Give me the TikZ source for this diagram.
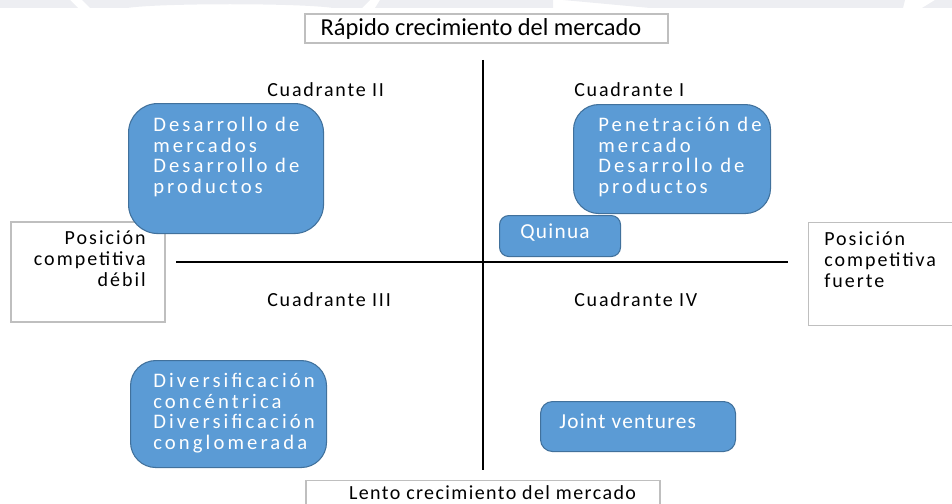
\documentclass[tikz,border=0pt]{standalone}
\usepackage{fontspec}
\setmainfont{Carlito}
\newfontfamily\bluefont[LetterSpace=15]{Carlito}
\newfontfamily\bluesfont[LetterSpace=6]{Carlito}
\newfontfamily\quadfont[LetterSpace=9]{Carlito}
\newfontfamily\posfont[LetterSpace=10]{Carlito}
\newfontfamily\lentofont[LetterSpace=7]{Carlito}
\definecolor{bluefill}{HTML}{5B9BD5}
\definecolor{blueline}{HTML}{41719C}
\definecolor{boxline}{HTML}{BFBFBF}
\definecolor{wm}{HTML}{EDEEF2}
\tikzset{
  graybox/.style={draw=boxline, line width=0.8pt, fill=white, inner sep=0pt},
  bluebox/.style={draw=blueline, line width=0.8pt, fill=bluefill, inner sep=0pt},
  bluetext/.style={text=white, font=\bluefont\fontsize{15.5}{15.5}\selectfont, align=left, inner sep=0pt},
  bluestext/.style={text=white, font=\bluesfont\fontsize{16}{15.5}\selectfont, inner sep=0pt},
  quadtext/.style={font=\quadfont\fontsize{15}{16}\selectfont, inner sep=0pt},
  postext/.style={font=\posfont\fontsize{15}{15.75}\selectfont, inner sep=0pt},
  axis/.style={line width=1pt, draw=black}
}
\begin{document}
\begin{tikzpicture}[x=0.75pt,y=-0.75pt]
\useasboundingbox (0,0) rectangle (952,503);
% watermark
\fill[wm] (0,0) -- (70,0) -- (78,8) -- (0,8) -- cycle;
\fill[wm] (82,0) -- (370,0) -- (362,8) -- (333,8) .. controls (300,3) and (160,3) .. (127,8) -- (90,8) -- cycle;
\fill[wm] (380,0) -- (553,0) -- (553,8) -- (375,8) -- cycle;
\fill[wm] (563,0) -- (905,0) -- (903,8) -- (650,8) -- cycle;
\fill[wm] (935,0) -- (952,0) -- (952,8) -- (922,8) -- cycle;
% axes
\coordinate (vtop) at (483,60);
\coordinate (vbot) at (483,470);
\coordinate (hleft) at (176,262);
\coordinate (hright) at (788,262);
\draw[axis] (vtop) -- (vbot);
\draw[axis] (hleft) -- (hright);
% top and bottom boxes
\node[graybox, minimum width=272.25pt, minimum height=21.75pt] (rapidobox) at (486.5,28.5) {};
\node[font=\fontsize{18.3}{20}\selectfont, inner sep=0pt] (rapido) at (481,28.5) {Rápido crecimiento del mercado};
\node[graybox, minimum width=265.5pt, minimum height=30pt, anchor=north] (lentobox) at (483,480) {};
\node[font=\lentofont\fontsize{15}{16}\selectfont, inner sep=0pt] (lento) at (492.5,493) {Lento crecimiento del mercado};
% side boxes
\node[graybox, minimum width=115.5pt, minimum height=75pt] (debilbox) at (88,272) {};
\node[postext, align=right, anchor=north east] (debil) at (146,230) {Posición\\competitiva\\débil};
\node[graybox, minimum width=112.5pt, minimum height=77.25pt, anchor=north west] (fuertebox) at (808,222) {};
\node[postext, align=left, anchor=north west] (fuerte) at (824,231) {Posición\\competitiva\\fuerte};
% quadrant labels
\node[quadtext, anchor=west] (q2) at (267,90) {Cuadrante II};
\node[quadtext, anchor=west] (q1) at (574,90) {Cuadrante I};
\node[quadtext, anchor=west] (q3) at (267,300) {Cuadrante III};
\node[quadtext, anchor=west] (q4) at (574,300) {Cuadrante IV};
% blue boxes
\node[bluebox, rounded corners=22pt, minimum width=146.25pt, minimum height=97.5pt, anchor=north west] (dmbox) at (128,103) {};
\node[bluetext, anchor=north west] (dm) at (153,117) {Desarrollo de\\mercados\\Desarrollo de\\productos};
\node[bluebox, rounded corners=19pt, minimum width=147.75pt, minimum height=81.75pt, anchor=north west] (pmbox) at (573,104) {};
\node[bluetext, anchor=north west] (pm) at (598,117) {Penetración de\\mercado\\Desarrollo de\\productos};
\node[bluebox, rounded corners=7pt, minimum width=90.75pt, minimum height=30.75pt, anchor=north west] (qbox) at (499,215) {};
\node[bluestext, anchor=west] (quinua) at (520,233) {Quinua};
\node[bluebox, rounded corners=19pt, minimum width=147pt, minimum height=80.25pt, anchor=north west] (divbox) at (130,360) {};
\node[bluetext, anchor=north west] (div) at (153,373) {Diversificación\\concéntrica\\Diversificación\\conglomerada};
\node[bluebox, rounded corners=9pt, minimum width=146.25pt, minimum height=37.5pt, anchor=north west] (jvbox) at (540,401) {};
\node[bluestext, anchor=west] (jv) at (559,421) {Joint ventures};
\end{tikzpicture}
\end{document}
